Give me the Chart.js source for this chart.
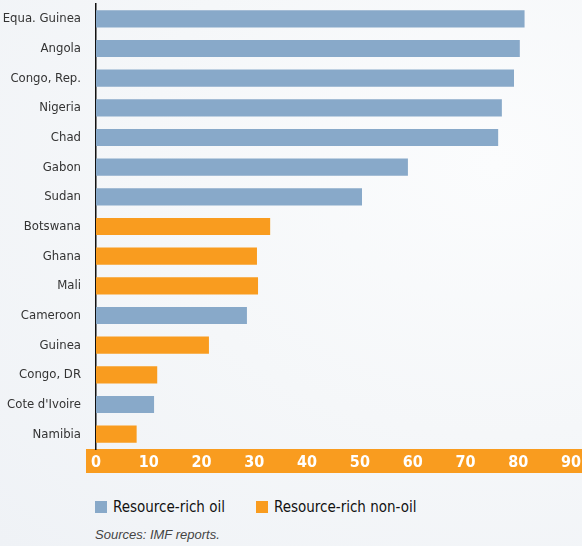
<!DOCTYPE html>
<html>
<head>
<meta charset="utf-8">
<script src="https://cdn.jsdelivr.net/npm/chart.js@4"></script>
<style>
  body {
    margin: 0;
    width: 582px;
    height: 546px;
    overflow: hidden;
    background: radial-gradient(ellipse at 85% 30%, #fbfcfd 0%, #f5f7f9 50%, #eff2f6 100%);
    font-family: "DejaVu Sans Condensed", "Liberation Sans Narrow", sans-serif;
    position: relative;
  }
  #wrap { position: absolute; left: 0; top: 0; width: 582px; height: 476px; }
  .legend { position: absolute; top: 498px; font-size: 15px; color: #111; white-space: nowrap; }
  .legend span.box { display: inline-block; width: 12px; height: 12px; vertical-align: -1px; margin-right: 6px; }
  #source { position: absolute; left: 95px; top: 527px; font-family: "Liberation Sans", sans-serif; font-style: italic; font-size: 13px; color: #444; }
</style>
</head>
<body>
<div id="wrap"><canvas id="myChart" width="582" height="476"></canvas></div>
<div class="legend" style="left:95px"><span class="box" style="background:#88a9c9"></span>Resource-rich oil</div>
<div class="legend" style="left:256px"><span class="box" style="background:#f99c1f"></span>Resource-rich non-oil</div>
<div id="source">Sources: IMF reports.</div>

<script>
//chart data
let countries = ['Equa. Guinea', 'Angola', 'Congo, Rep.', 'Nigeria', 'Chad', 'Gabon', 'Sudan',
                 'Botswana', 'Ghana', 'Mali', 'Cameroon', 'Guinea', 'Congo, DR', "Cote d'Ivoire", 'Namibia']
let oilValues = [81.2, 80.3, 79.2, 76.9, 76.2, 59.1, 50.4, null, null, null, 28.6, null, null, 11.0, null]
let nonOilValues = [null, null, null, null, null, null, null, 33.0, 30.5, 30.7, null, 21.4, 11.6, null, 7.7]
let xTicks = [0, 10, 20, 30, 40, 50, 60, 70, 80, 90]

let blue = '#88a9c9'
let orange = '#f99c1f'
let condensed = '"DejaVu Sans Condensed", "Liberation Sans Narrow", sans-serif'

//orange band behind the x axis labels
let axisBand = {
    id: 'axisBand',
    beforeDraw(chart) {
        let c = chart.ctx
        let area = chart.chartArea
        c.save()
        c.fillStyle = orange
        c.fillRect(86, area.bottom, chart.width - 86, 24)
        c.restore()
    }
}

var ctx = document.getElementById('myChart').getContext('2d');
var mychart = new Chart(ctx, {
    type: 'bar',
    data: {
        labels: countries,
        datasets: [{
            label: 'Resource-rich oil',
            backgroundColor: blue,
            data: oilValues
        }, {
            label: 'Resource-rich non-oil',
            backgroundColor: orange,
            data: nonOilValues
        }]
    },
    options: {
        responsive: false,
        animation: false,
        indexAxis: 'y',
        layout: { padding: { top: 4, right: 11, bottom: 3, left: 0 } },
        datasets: { bar: { categoryPercentage: 1, barPercentage: 0.58 } },
        plugins: {
            legend: { display: false },
            tooltip: { enabled: false }
        },
        scales: {
            x: {
                stacked: true,
                min: 0,
                max: 90,
                grid: { display: false, drawTicks: false },
                border: { display: false },
                afterBuildTicks: (scale) => { scale.ticks = xTicks.map(v => ({ value: v })) },
                afterFit: (scale) => {
                    scale.height = 24
                    scale.paddingLeft = 0
                    scale.paddingRight = 0
                },
                ticks: {
                    color: '#ffffff',
                    padding: 4,
                    font: { family: condensed, size: 16, weight: 'bold' }
                }
            },
            y: {
                stacked: true,
                grid: { display: false, drawTicks: false },
                border: { display: true, color: '#111', width: 1.5 },
                afterFit: (scale) => {
                    scale.width = 96
                    scale.paddingTop = 0
                    scale.paddingBottom = 0
                },
                ticks: {
                    color: '#333',
                    padding: 15,
                    font: { family: condensed, size: 13 }
                }
            }
        }
    },
    plugins: [axisBand]
});
</script>
</body>
</html>
